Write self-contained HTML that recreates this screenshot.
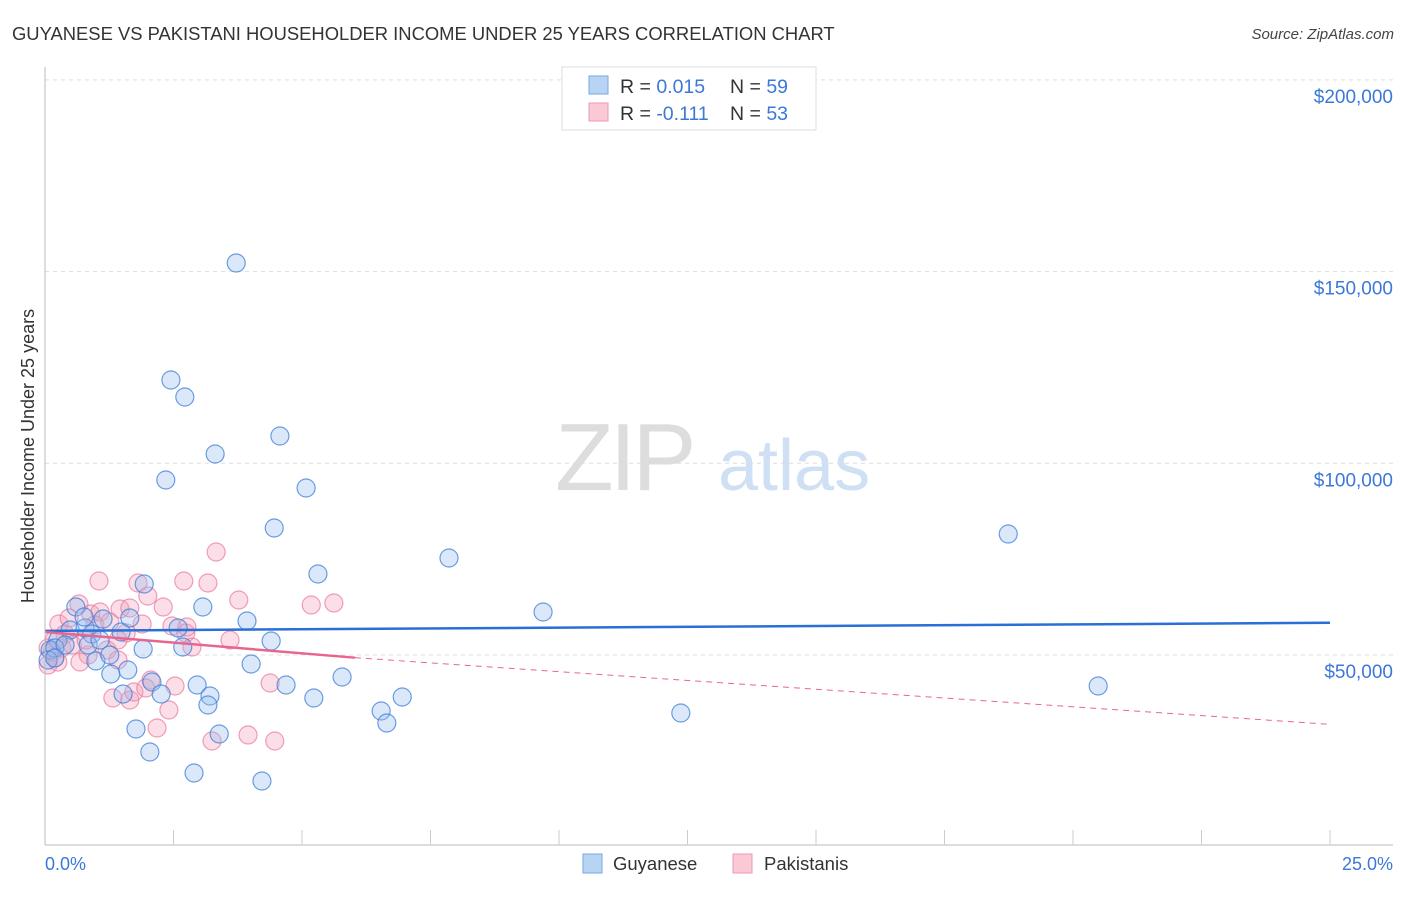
<!DOCTYPE html>
<html><head><meta charset="utf-8">
<style>
body{margin:0;background:#fff;font-family:"Liberation Sans",sans-serif;}
svg text{font-family:"Liberation Sans",sans-serif;}
</style></head>
<body>
<svg id="chart" width="1406" height="892" xmlns="http://www.w3.org/2000/svg">
<text x="12" y="40" font-size="18.4" fill="#333">GUYANESE VS PAKISTANI HOUSEHOLDER INCOME UNDER 25 YEARS CORRELATION CHART</text>
<text x="1394" y="39" font-size="15" fill="#444" font-style="italic" text-anchor="end">Source: ZipAtlas.com</text>
<g id="grid"></g>
<g>
<text x="555" y="490" font-size="96" fill="#ddd" font-family="Liberation Serif" letter-spacing="-4">ZIP</text>
<text x="718" y="490" font-size="72" fill="#cfe0f4">atlas</text>
</g>
<text transform="translate(34,456) rotate(-90)" font-size="18" fill="#333" text-anchor="middle">Householder Income Under 25 years</text>
<g id="points"></g>
<g id="trends"></g>
<g id="axes"></g>
<g>
<rect x="562" y="67" width="254" height="63" fill="#fff" stroke="#ddd"/>
<rect x="589" y="76" width="19" height="18" fill="#b8d4f5" stroke="#7aa7e0"/>
<rect x="589" y="103" width="19" height="18" fill="#fbc8d6" stroke="#ec9ab2"/>
<text x="620" y="93" font-size="19.5" fill="#333">R = <tspan fill="#3b78d8">0.015</tspan></text>
<text x="730" y="93" font-size="19.5" fill="#333">N = <tspan fill="#3b78d8">59</tspan></text>
<text x="620" y="120" font-size="19.5" fill="#333">R = <tspan fill="#3b78d8">-0.111</tspan></text>
<text x="730" y="120" font-size="19.5" fill="#333">N = <tspan fill="#3b78d8">53</tspan></text>
</g>
<g>
<rect x="583" y="854" width="19" height="19" fill="#b8d4f5" stroke="#7aa7e0"/>
<text x="613" y="870" font-size="18.5" fill="#333">Guyanese</text>
<rect x="733" y="854" width="19" height="19" fill="#fbc8d6" stroke="#ec9ab2"/>
<text x="764" y="870" font-size="18.5" fill="#333">Pakistanis</text>
</g>
</svg>
<script>
const xTicksLabels=["0.0%","25.0%"];
const yTickValues=[50000,100000,150000,200000];
const yTickLabels=["$50,000","$100,000","$150,000","$200,000"];
const bluePx=[[236,263],[171,380],[185,397],[280,436],[215,454],[166,480],[306,488],[274,528],[449,558],[318,574],[1008,534],[543,612],[144,584],[203,607],[247,621],[76,607],[103,619],[121,632],[130,618],[178,628],[183,647],[271,641],[143,649],[96,661],[251,664],[128,670],[111,674],[58,640],[70,630],[85,628],[92,634],[50,650],[55,648],[88,645],[197,685],[286,685],[342,677],[402,697],[1098,686],[210,696],[123,694],[152,682],[161,694],[208,705],[314,698],[381,711],[387,723],[681,713],[136,729],[219,734],[150,752],[194,773],[262,781],[65,645],[48,660],[110,655],[55,658],[100,640],[84,617]];
const pinkPx=[[216,552],[99,581],[138,583],[184,581],[208,583],[239,600],[79,604],[148,596],[163,607],[91,614],[120,609],[100,612],[130,608],[311,605],[334,603],[172,626],[186,633],[230,640],[192,647],[126,633],[59,624],[65,634],[54,640],[107,650],[55,658],[48,665],[142,624],[118,660],[151,680],[175,686],[113,698],[130,700],[134,692],[146,688],[169,710],[157,728],[270,683],[248,735],[275,741],[212,741],[187,627],[62,648],[72,645],[88,655],[80,662],[69,618],[95,625],[110,622],[52,652],[58,662],[86,640],[118,640],[48,648]];
const guyaneseX=bluePx.map(p=>+((p[0]-45)/1285*25).toFixed(2));
const guyaneseY=bluePx.map(p=>Math.round((846.7-p[1])/191.7*50000));
const pakistaniX=pinkPx.map(p=>+((p[0]-45)/1285*25).toFixed(2));
const pakistaniY=pinkPx.map(p=>Math.round((846.7-p[1])/191.7*50000));
const blueTrend=[[0,56300],[25,58400]];
const pinkTrend=[[0,56000],[6.03,49300],[25,31900]];

const X0=45,X1=1330,Y0=846.7,PER=191.7/50000;
const sx=v=>X0+v/25*(X1-X0);
const sy=v=>Y0-v*PER;
const NS="http://www.w3.org/2000/svg";
function mk(tag,attrs,parent){const e=document.createElementNS(NS,tag);for(const k in attrs)e.setAttribute(k,attrs[k]);parent.appendChild(e);return e;}
const grid=document.getElementById('grid'),axes=document.getElementById('axes');
yTickValues.forEach((v,i)=>{
 const l=mk('line',{x1:45,x2:1393,y1:sy(v),y2:sy(v),stroke:'#ddd','stroke-dasharray':'4,4'},grid);
 
 
 const t=mk('text',{x:1393,y:sy(v)+23,'font-size':19,fill:'#3b78d8','text-anchor':'end'},axes);
 t.textContent=yTickLabels[i];
 
 
});
const ax=mk('line',{x1:45,x2:45,y1:67,y2:845,stroke:'#bbb'},axes);


const bx=mk('line',{x1:45,x2:1393,y1:845,y2:845,stroke:'#bbb'},axes);


for(let k=1;k<=10;k++){const tk=mk('line',{x1:45+128.5*k,x2:45+128.5*k,y1:830,y2:845,stroke:'#ccc'},axes);
 
 }
const xl=mk('text',{x:45,y:870,'font-size':18,fill:'#3b78d8'},axes);xl.textContent=xTicksLabels[0];


const xr=mk('text',{x:1393,y:870,'font-size':18,fill:'#3b78d8','text-anchor':'end'},axes);xr.textContent=xTicksLabels[1];


const pts=document.getElementById('points');
pakistaniX.forEach((x,i)=>{const c=mk('circle',{cx:sx(x),cy:sy(pakistaniY[i]),r:9,fill:'rgba(244,160,186,0.35)',stroke:'rgba(232,120,155,0.7)','stroke-width':1.2},pts);
 
 });
guyaneseX.forEach((x,i)=>{const c=mk('circle',{cx:sx(x),cy:sy(guyaneseY[i]),r:9,fill:'rgba(150,190,240,0.35)',stroke:'rgba(60,125,215,0.75)','stroke-width':1.2},pts);
 
 });
const tr=document.getElementById('trends');
const bt=mk('line',{x1:sx(blueTrend[0][0]),y1:sy(blueTrend[0][1]),x2:sx(blueTrend[1][0]),y2:sy(blueTrend[1][1]),stroke:'#2a6fd6','stroke-width':2.5},tr);


const pt=mk('line',{x1:sx(pinkTrend[0][0]),y1:sy(pinkTrend[0][1]),x2:sx(pinkTrend[1][0]),y2:sy(pinkTrend[1][1]),stroke:'#e8668e','stroke-width':2.5},tr);


const pd=mk('line',{x1:sx(pinkTrend[1][0]),y1:sy(pinkTrend[1][1]),x2:sx(pinkTrend[2][0]),y2:sy(pinkTrend[2][1]),stroke:'#e8668e','stroke-width':1,'stroke-dasharray':'6,5'},tr);


</script>
</body></html>
